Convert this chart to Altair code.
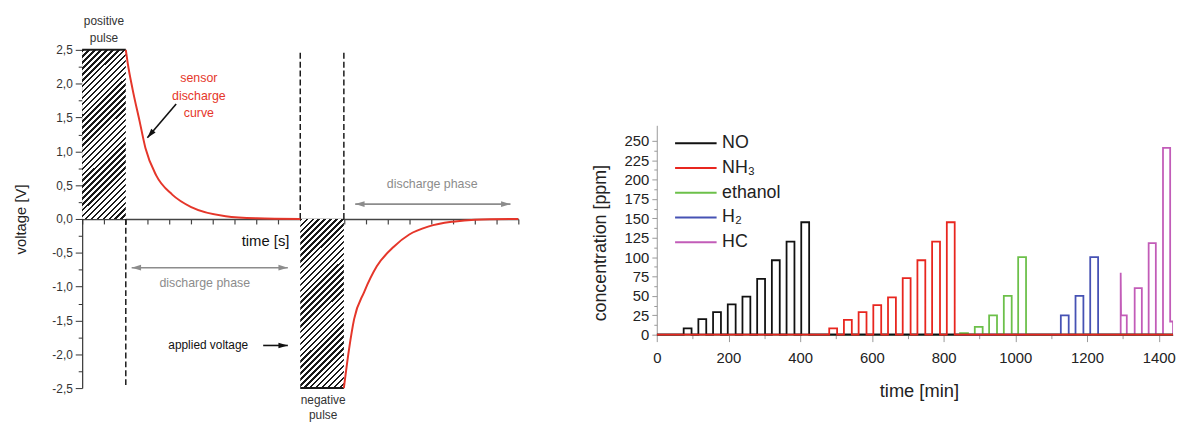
import altair as alt
import pandas as pd

FONT = "Liberation Sans"

# ---------------- Left panel: voltage pulses and sensor discharge ----------------
pulse_start = [0, 10]
pulse_end = [2, 12]
pulse_low = [0, -2.5]
pulse_high = [2.5, 0]
pulse_level = [2.5, -2.5]

pos_curve_t = [2.0, 2.09, 2.31, 2.63, 2.90, 3.40, 4.13, 5.03, 6.58, 8.0, 10.0]
pos_curve_v = [2.5, 2.30, 1.92, 1.45, 1.05, 0.64, 0.36, 0.17, 0.04, 0.01, 0.0]
neg_curve_t = [12.0, 12.24, 12.47, 12.93, 13.51, 14.29, 15.0, 15.9, 17.0, 18.0, 20.0]
neg_curve_v = [-2.5, -1.92, -1.48, -1.08, -0.70, -0.41, -0.23, -0.11, -0.04, -0.01, 0.0]

marker_t = [2, 10, 12]
marker_from = [0, 0, 0]
marker_to = [-2.5, 2.5, 2.5]

y_tick_values = [-2.5, -2.25, -2.0, -1.75, -1.5, -1.25, -1.0, -0.75, -0.5, -0.25, 0.0,
                 0.25, 0.5, 0.75, 1.0, 1.25, 1.5, 1.75, 2.0, 2.25, 2.5]

# annotation texts (data coordinates)
dark_text = ["positive", "pulse", "negative", "pulse"]
dark_t = [1.0, 1.0, 11.05, 11.05]
dark_v = [2.92, 2.68, -2.675, -2.895]
red_text = ["sensor", "discharge", "curve"]
red_t = [5.35, 5.35, 5.35]
red_v = [2.076, 1.813, 1.564]
gray_text = ["discharge phase", "discharge phase"]
gray_t = [5.62, 16.05]
gray_v = [-0.94, 0.51]
black_text = ["applied voltage"]
black_t = [5.78]
black_v = [-1.87]
axis_text = ["time [s]"]
axis_t = [8.41]
axis_v = [-0.32]

# arrows: shafts and heads (tip position, pointing angle)
gray_shaft_t0 = [2.27, 12.52]
gray_shaft_t1 = [9.43, 19.64]
gray_shaft_v = [-0.72, 0.22]
gray_head_t = [2.27, 9.43, 12.52, 19.64]
gray_head_v = [-0.72, -0.72, 0.22, 0.22]
gray_head_angle = [270, 90, 270, 90]
black_shaft_t0 = [8.30, 4.31]
black_shaft_t1 = [9.43, 2.99]
black_shaft_v0 = [-1.87, 1.70]
black_shaft_v1 = [-1.87, 1.20]
black_head_t = [9.43, 2.99]
black_head_v = [-1.87, 1.20]
black_head_angle = [90, 220]

RED = "#e5362a"
GRAY = "#8c8c8c"
DARK = "#222222"

xs = alt.Scale(domain=[0, 20], nice=False)
ys = alt.Scale(domain=[-2.5, 2.5], nice=False)

maj = "abs(datum.value*2 - round(datum.value*2)) < 0.001"
x_axis_left = alt.Axis(
    offset=-171, values=list(range(21)), labels=False, title=None, grid=False,
    tickSize=5, tickColor="#444", domainColor="#444", domainWidth=1.5, tickWidth=1.2)
y_axis_left = alt.Axis(
    values=y_tick_values,
    labelExpr="(" + maj + ") ? ((datum.value < 0 ? '-' : '') + replace(format(abs(datum.value), '.1f'), '.', ',')) : ''",
    labelOverlap=False, labelFlush=False,
    tickSize={"condition": {"test": maj, "value": 7}, "value": 4},
    title="voltage [V]", titleFont=FONT, titleFontSize=15, titleFontWeight="normal",
    titleColor=DARK, titleX=-62, titleY=171, titleAngle=270, titleBaseline="middle",
    labelFont=FONT, labelFontSize=12, labelColor="#333", labelPadding=3,
    domainColor="#333", tickColor="#333", domainWidth=1.2, grid=False)


def X(field="t"):
    return alt.X(field + ":Q", scale=xs, axis=x_axis_left)


def Y(field="v"):
    return alt.Y(field + ":Q", scale=ys, axis=y_axis_left)


# hatch fill (style) as a striped linear gradient
n_stripes = 36
stops = []
for i in range(n_stripes):
    a = i / n_stripes
    b = (i + 0.42) / n_stripes
    c = (i + 1) / n_stripes
    stops += [{"offset": a, "color": "#1a1a1a"}, {"offset": b, "color": "#1a1a1a"},
              {"offset": b, "color": "#ffffff"}, {"offset": c, "color": "#ffffff"}]
hatch = {"gradient": "linear", "x1": 0, "y1": 0, "x2": 0.3034, "y2": 1.1793, "stops": stops}

pulses = pd.DataFrame({"t": pulse_start, "t2": pulse_end, "v": pulse_low, "v2": pulse_high,
                       "lvl": pulse_level})
rects = alt.Chart(pulses).mark_rect(fill=hatch, stroke=None).encode(
    x=X(), x2="t2:Q", y=Y(), y2="v2:Q")
levels = alt.Chart(pulses).mark_rule(color="#1a1a1a", strokeWidth=2).encode(
    x=X(), x2="t2:Q", y=Y("lvl"))

curves = pd.DataFrame({
    "t": pos_curve_t + neg_curve_t,
    "v": pos_curve_v + neg_curve_v,
    "seg": ["p"] * len(pos_curve_t) + ["n"] * len(neg_curve_t),
    "i": list(range(len(pos_curve_t) + len(neg_curve_t))),
})
curve_layer = alt.Chart(curves).mark_line(color=RED, strokeWidth=2, interpolate="monotone").encode(
    x=X(), y=Y(), detail="seg:N", order="i:Q")

markers = pd.DataFrame({"t": marker_t, "v": marker_from, "v2": marker_to})
marker_layer = alt.Chart(markers).mark_rule(color="#1a1a1a", strokeWidth=1.5, strokeDash=[6, 3]).encode(
    x=X(), y=Y(), y2="v2:Q")

HEAD = "M0,0L-0.6,2L0.6,2Z"
gshaft = alt.Chart(pd.DataFrame({"t": gray_shaft_t0, "t2": gray_shaft_t1, "v": gray_shaft_v})).mark_rule(
    strokeWidth=1.6, color=GRAY).encode(x=X(), x2="t2:Q", y=Y())
ghead = alt.Chart(pd.DataFrame({"t": gray_head_t, "v": gray_head_v, "a": gray_head_angle})).mark_point(
    shape=HEAD, filled=True, size=90, opacity=1, strokeWidth=0, color=GRAY).encode(
    x=X(), y=Y(), angle=alt.Angle("a:Q", scale=None))
bshaft = alt.Chart(pd.DataFrame({"t": black_shaft_t0, "t2": black_shaft_t1,
                                 "v": black_shaft_v0, "v2": black_shaft_v1})).mark_rule(
    strokeWidth=1.6, color="#111111").encode(x=X(), x2="t2:Q", y=Y(), y2="v2:Q")
bhead = alt.Chart(pd.DataFrame({"t": black_head_t, "v": black_head_v, "a": black_head_angle})).mark_point(
    shape=HEAD, filled=True, size=90, opacity=1, strokeWidth=0, color="#111111").encode(
    x=X(), y=Y(), angle=alt.Angle("a:Q", scale=None))


def text_layer(texts, ts, vs, color, size):
    df = pd.DataFrame({"t": ts, "v": vs, "txt": texts})
    return alt.Chart(df).mark_text(font=FONT, fontSize=size, color=color, baseline="middle",
                                   align="center", clip=False).encode(
        x=X(), y=Y(), text="txt:N")


left = alt.layer(
    rects, levels, marker_layer, curve_layer, gshaft, ghead, bshaft, bhead,
    text_layer(dark_text, dark_t, dark_v, "#333333", 12),
    text_layer(red_text, red_t, red_v, RED, 12.5),
    text_layer(gray_text, gray_t, gray_v, GRAY, 12.5),
    text_layer(black_text, black_t, black_v, "#111111", 12),
    text_layer(axis_text, axis_t, axis_v, "#111111", 15),
).properties(width=441, height=342)

# ---------------- Right panel: gas concentration steps ----------------
t_end = 1440
pulse_width = 22

no_start = [75, 116, 157, 198, 239, 280, 321, 362, 403]
no_val = [8, 20, 29, 39, 49, 72, 96, 120, 145]
nh3_start = [481, 522, 563, 604, 645, 686, 727, 768, 809]
nh3_val = [8, 19, 29, 38, 48, 73, 96, 120, 145]
eth_start = [846, 887, 927, 968, 1008]
eth_val = [2, 10, 25, 50, 100]
h2_start = [1127, 1168, 1209]
h2_val = [25, 50, 100]
hc_t = [0, 1294, 1294, 1295, 1311, 1311, 1333, 1333, 1353, 1353, 1372, 1372, 1392, 1392,
        1412, 1412, 1432, 1432, 1440, 1440]
hc_v = [0, 0, 80, 25, 25, 0, 0, 60, 60, 0, 0, 118, 118, 0, 0, 241, 241, 17, 17, 0]

series_names = ["NO", "NH₃", "ethanol", "H₂", "HC"]
series_colors = ["#111111", "#e8261f", "#6cc04a", "#4652b4", "#c25cb8"]


def step_table(name, starts, vals):
    tt, vv = [0], [0]
    for s, v in zip(starts, vals):
        tt += [s, s, s + pulse_width, s + pulse_width]
        vv += [0, v, v, 0]
    tt.append(t_end)
    vv.append(0)
    return pd.DataFrame({"t": tt, "c": vv, "series": name, "i": range(len(tt))})


tables = {
    "NO": step_table("NO", no_start, no_val),
    "NH₃": step_table("NH₃", nh3_start, nh3_val),
    "ethanol": step_table("ethanol", eth_start, eth_val),
    "H₂": step_table("H₂", h2_start, h2_val),
    "HC": pd.DataFrame({"t": hc_t, "c": hc_v, "series": "HC", "i": range(len(hc_t))}),
}

SPACING = 140
cs = alt.Scale(domain=series_names, range=series_colors)
leg = alt.Legend(orient="none", legendX=30, legendY=85, title=None,
                 symbolType="M-2.5,0H2.5",
                 symbolSize=282, symbolStrokeWidth=2, labelFont=FONT, labelFontSize=18,
                 labelColor="#222", labelOffset=17, rowPadding=6, padding=0)

xr = alt.Scale(domain=[0, t_end], nice=False)
yr = alt.Scale(domain=[0, 270], nice=False, range=[288, 76.3])
x_right = alt.X("t:Q", scale=xr, axis=alt.Axis(
    offset=-54, values=list(range(0, 1401, 100)), format="d",
    labelExpr="datum.value % 200 == 0 ? datum.label : ''", labelOverlap=False, labelFlush=False,
    tickSize={"condition": {"test": "datum.value % 200 == 0", "value": 7}, "value": 4},
    labelFont=FONT, labelFontSize=15, labelColor="#222", labelPadding=9,
    title="time [min]", titleFont=FONT, titleFontSize=18.5, titleFontWeight="normal",
    titleColor="#222", titleX=265, titleY=57, titleBaseline="middle",
    domainColor="#999", tickColor="#999", grid=False))
y_right = alt.Y("c:Q", scale=yr, axis=alt.Axis(
    values=[12.5 * i for i in range(21)],
    labelExpr="datum.value % 25 == 0 ? datum.label : ''", labelOverlap=False, labelFlush=False,
    tickSize={"condition": {"test": "datum.value % 25 == 0", "value": 5}, "value": 3},
    labelFont=FONT, labelFontSize=15, labelColor="#222", labelPadding=3,
    title="concentration [ppm]", titleFont=FONT, titleFontSize=18, titleFontWeight="normal",
    titleColor="#222", titleX=-57, titleY=195, titleAngle=270, titleBaseline="middle",
    domainColor="#999", tickColor="#999", grid=False))

draw_order = ["HC", "H₂", "ethanol", "NO", "NH₃"]
right_layers = []
for name in draw_order:
    right_layers.append(
        alt.Chart(tables[name]).mark_line(strokeWidth=1.8, clip=True, strokeJoin="miter").encode(
            x=x_right, y=y_right, order="i:Q",
            color=alt.Color("series:N", scale=cs, legend=leg)))

right = alt.layer(*right_layers).properties(width=522, height=342)

chart = alt.hconcat(left, right, spacing=SPACING, bounds="flush").resolve_scale(
    color="independent", x="independent", y="independent"
).properties(
    padding={"left": 6, "top": 5, "right": 0, "bottom": 0}, background="white"
).configure_view(stroke=None)

chart.save("out.html", embed_options={"renderer": "svg", "actions": False})
